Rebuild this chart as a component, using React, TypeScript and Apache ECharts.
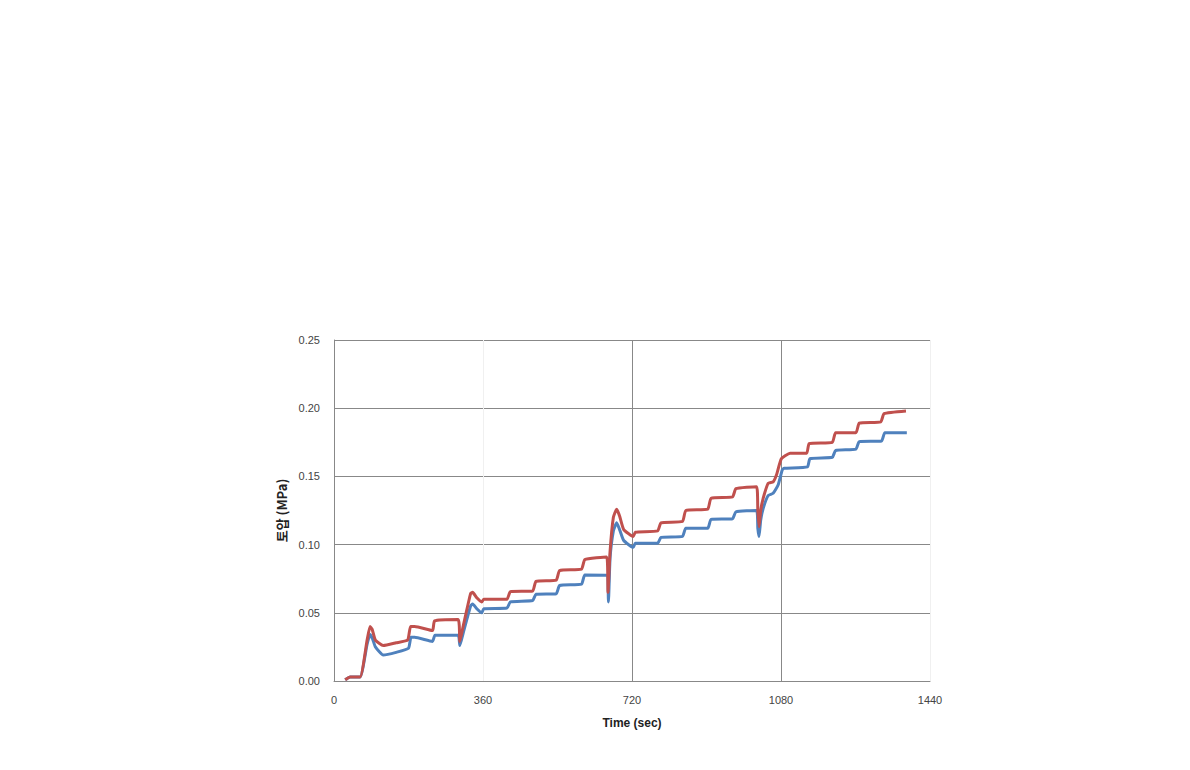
import React, { useEffect, useRef } from "react";
import * as echarts from "echarts";

const xTicks = [0, 360, 720, 1080, 1440];
const yTicks = [0, 0.05, 0.1, 0.15, 0.2, 0.25];

const blueSeries: [number, number][] = [
  [27, 0.001], [39, 0.003], [63, 0.003], [80, 0.027], [87, 0.034], [93, 0.031], [100, 0.025], [119, 0.019],
  [150, 0.021], [180, 0.024], [186, 0.032], [195, 0.032], [238, 0.029], [244, 0.0335], [300, 0.0335],
  [304, 0.026], [312, 0.035], [330, 0.055], [335, 0.0565], [345, 0.053], [357, 0.05], [362, 0.053],
  [418, 0.0535], [426, 0.058], [480, 0.059], [488, 0.0636], [537, 0.064], [545, 0.07], [598, 0.071],
  [606, 0.0777], [659, 0.0775], [663, 0.058], [667, 0.09], [675, 0.11], [683, 0.116], [690, 0.111],
  [700, 0.103], [723, 0.098], [728, 0.101], [782, 0.101], [790, 0.1053], [842, 0.106], [850, 0.112],
  [903, 0.112], [911, 0.1185], [963, 0.119], [971, 0.124], [1021, 0.125], [1024, 0.112], [1027, 0.106],
  [1031, 0.118], [1037, 0.1266], [1049, 0.136], [1061, 0.1376], [1073, 0.1437], [1083, 0.1547],
  [1088, 0.156], [1144, 0.157], [1150, 0.163], [1204, 0.164], [1212, 0.169], [1261, 0.17], [1269, 0.1755],
  [1323, 0.176], [1331, 0.182], [1384, 0.182],
];

const redSeries: [number, number][] = [
  [27, 0.001], [39, 0.003], [63, 0.003], [80, 0.03], [87, 0.04], [92, 0.038], [100, 0.03], [119, 0.026],
  [150, 0.028], [178, 0.03], [185, 0.04], [195, 0.04], [238, 0.037], [243, 0.044], [300, 0.045],
  [304, 0.029], [312, 0.04], [330, 0.064], [335, 0.065], [345, 0.061], [357, 0.058], [362, 0.06],
  [418, 0.06], [426, 0.0655], [480, 0.066], [488, 0.073], [537, 0.074], [545, 0.081], [598, 0.082],
  [606, 0.089], [659, 0.091], [662, 0.065], [667, 0.095], [675, 0.12], [683, 0.126], [690, 0.121],
  [700, 0.111], [723, 0.106], [728, 0.109], [782, 0.11], [790, 0.116], [842, 0.117], [850, 0.125],
  [903, 0.126], [911, 0.134], [963, 0.135], [971, 0.141], [1021, 0.1425], [1024, 0.125], [1027, 0.113],
  [1031, 0.125], [1037, 0.134], [1049, 0.145], [1061, 0.146], [1069, 0.151], [1081, 0.163], [1102, 0.167],
  [1142, 0.167], [1148, 0.174], [1204, 0.175], [1212, 0.182], [1261, 0.182], [1269, 0.189], [1321, 0.19],
  [1329, 0.196], [1382, 0.198],
];

export default function App() {
  const ref = useRef<HTMLDivElement>(null);
  useEffect(() => {
    document.body.style.margin = "0";
    const chart = echarts.init(ref.current!, null, { renderer: "svg" });
    const labelStyle = { color: "#444", fontSize: 11, fontFamily: "Liberation Sans, Arial, sans-serif" };
    chart.setOption({
      animation: false,
      backgroundColor: "#fff",
      grid: { left: 334, right: 260, top: 340, bottom: 89, containLabel: false },
      xAxis: {
        type: "value",
        min: xTicks[0],
        max: xTicks[xTicks.length - 1],
        interval: 360,
        name: "Time (sec)",
        nameLocation: "middle",
        nameGap: 36,
        nameTextStyle: { fontWeight: "bold", fontSize: 12, color: "#222", fontFamily: "Liberation Sans, Arial, sans-serif" },
        axisLine: { show: true, lineStyle: { color: "#888", width: 1 } },
        axisTick: { show: false },
        axisLabel: { ...labelStyle, margin: 13, formatter: (v: number) => String(v) },
        splitLine: { show: true, lineStyle: { color: ["#888", "#f0f0f0", "#888", "#888", "#f0f0f0"], width: 1 } },
      },
      yAxis: {
        type: "value",
        min: yTicks[0],
        max: yTicks[yTicks.length - 1],
        interval: 0.05,
        name: "토압 (MPa)",
        nameLocation: "middle",
        nameGap: 44,
        nameTextStyle: { fontWeight: "bold", fontSize: 13, color: "#222", fontFamily: "Noto Sans CJK KR, sans-serif" },
        axisLine: { show: true, lineStyle: { color: "#888", width: 1 } },
        axisTick: { show: false },
        axisLabel: { ...labelStyle, margin: 14, formatter: (v: number) => v.toFixed(2) },
        splitLine: { show: true, lineStyle: { color: "#888", width: 1 } },
      },
      series: [
        {
          type: "line",
          data: blueSeries,
          showSymbol: false,
          smooth: 0.15,
          lineStyle: { color: "#4F81BD", width: 3 },
          itemStyle: { color: "#4F81BD" },
        },
        {
          type: "line",
          data: redSeries,
          showSymbol: false,
          smooth: 0.15,
          lineStyle: { color: "#C0504D", width: 3 },
          itemStyle: { color: "#C0504D" },
        },
      ],
    });
    return () => chart.dispose();
  }, []);
  return <div ref={ref} style={{ width: 1190, height: 770 }} />;
}
